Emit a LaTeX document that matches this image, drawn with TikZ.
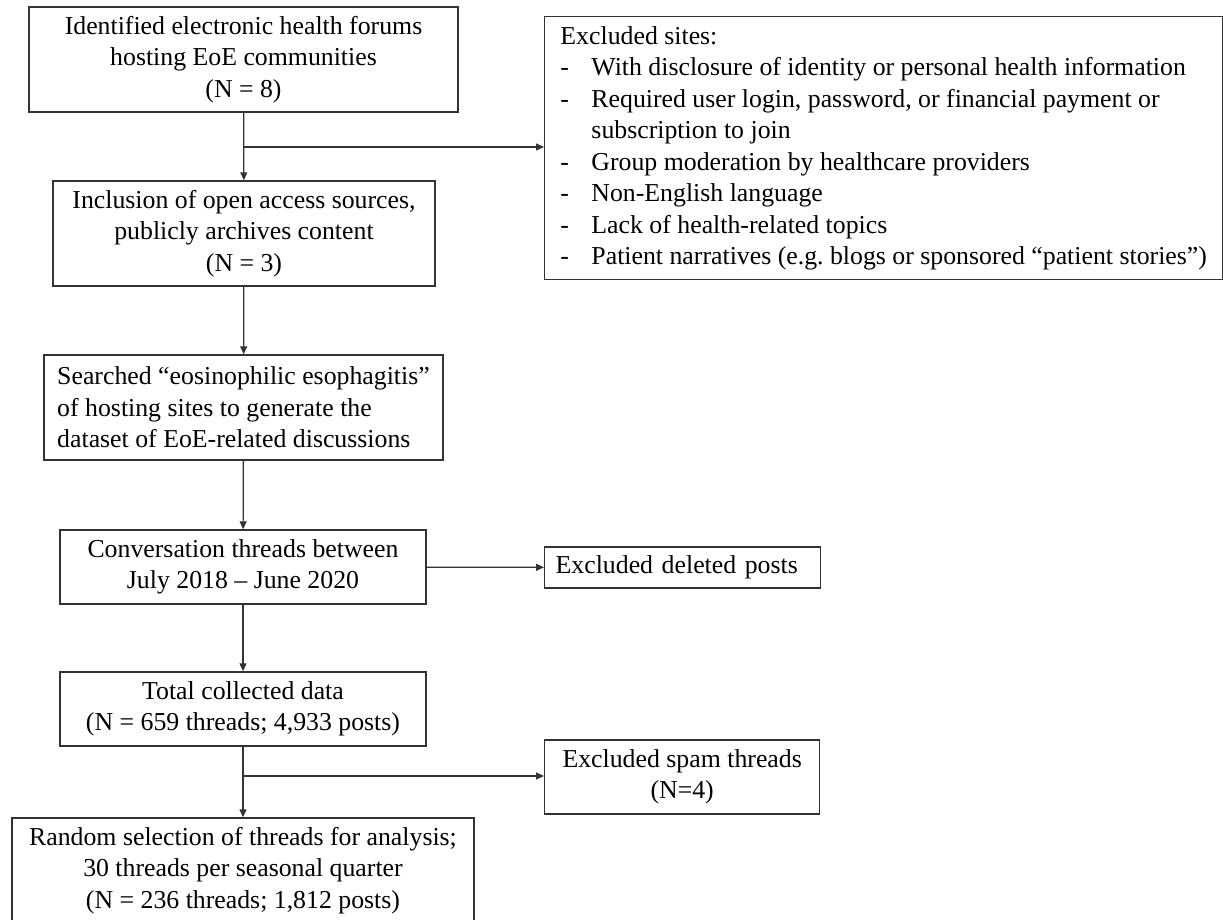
\documentclass[tikz,border=0pt]{standalone}
\usepackage{fontspec}
\setmainfont{Liberation Serif}
\usetikzlibrary{arrows.meta,positioning,calc}
\definecolor{FlowLine}{HTML}{333333}
\newcommand{\exdash}{\makebox[15.5pt][l]{-}}

\begin{document}
\begin{tikzpicture}[x=0.5pt, y=-0.5pt,
    box/.style={draw=FlowLine, line width=0.7pt, align=center, inner sep=0pt,
      font=\fontsize{12.9}{15.75}\selectfont},
    arr/.style={-{Triangle[length=4pt, width=3.5pt]}, line width=0.6pt, color=FlowLine}
  ]
    \useasboundingbox (0,0) rectangle (1223,920);
    % main column
    \node[box, minimum width=214.5pt, minimum height=52.5pt] (forums) at (243.5,59.5)
      {Identified electronic health forums\\hosting EoE communities\\(N = 8)};
    \node[box, minimum width=191pt, minimum height=52.5pt] (open) at (244,233.5)
      {Inclusion of open access sources,\\publicly archives content\\(N = 3)};
    \node[box, align=left, minimum width=199.5pt, minimum height=52.5pt] (search) at (243.5,407.5)
      {Searched “eosinophilic esophagitis”\\of hosting sites to generate the\\dataset of EoE-related discussions};
    \node[box, minimum width=183pt, minimum height=37pt] (threads) at (243,567)
      {Conversation threads between\\July 2018 – June 2020};
    \node[box, minimum width=183pt, minimum height=37pt] (total) at (243,709)
      {Total collected data\\(N = 659 threads; 4,933 posts)};
    \node[box, minimum width=231pt, minimum height=52.5pt] (random) at (243,870.5)
      {Random selection of threads for analysis;\\30 threads per seasonal quarter\\(N = 236 threads; 1,812 posts)};
    % exclusions
    \node[box, anchor=north west, align=left, minimum width=339pt, minimum height=131.5pt] (sites) at (544,16)
      {Excluded sites:\\
       \exdash With disclosure of identity or personal health information\\
       \exdash Required user login, password, or financial payment or\\
       \hspace*{15.5pt}subscription to join\\
       \exdash Group moderation by healthcare providers\\
       \exdash Non-English language\\
       \exdash Lack of health-related topics\\
       \exdash Patient narratives (e.g.\ blogs or sponsored “patient stories”)};
    \node[box, anchor=west, align=left, inner xsep=5.5pt, text width=127pt, minimum height=20.5pt] (deleted) at (544,567.5)
      {Excluded deleted posts};
    \node[box, anchor=west, minimum width=137.5pt, minimum height=37pt] (spam) at (544,777)
      {Excluded spam threads\\(N=4)};
    % connectors
    \coordinate (split1) at (244,147);
    \coordinate (split2) at (243,776);
    \draw[arr] (forums) -- (open);
    \draw[arr] (split1) -- (split1 -| sites.west);
    \draw[arr] (open) -- (search);
    \draw[arr] (search) -- (threads);
    \draw[arr] (threads) -- (deleted);
    \draw[arr] (threads) -- (total);
    \draw[arr] (total) -- (random);
    \draw[arr] (split2) -- (split2 -| spam.west);
\end{tikzpicture}
\end{document}
